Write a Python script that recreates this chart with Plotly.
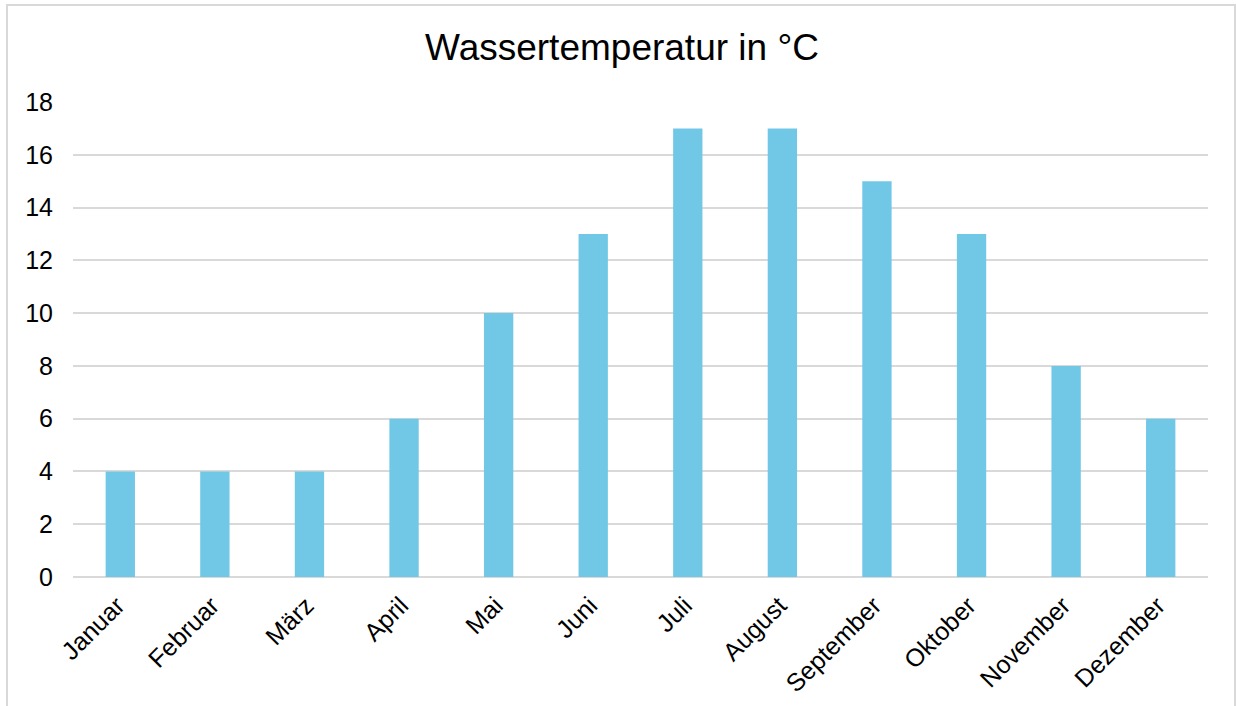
import plotly.graph_objects as go

months = ["Januar", "Februar", "März", "April", "Mai", "Juni", "Juli",
          "August", "September", "Oktober", "November", "Dezember"]
temps = [4, 4, 4, 6, 10, 13, 17, 17, 15, 13, 8, 6]
y_ticks = [0, 2, 4, 6, 8, 10, 12, 14, 16, 18]

W, H = 1236, 706
L, R, T, B = 73, 28, 102, 129
pw, ph = W - L - R, H - T - B

fig = go.Figure(go.Bar(
    x=months, y=temps, width=0.31,
    marker=dict(color="#70C8E6", line=dict(width=0)),
))

def px_x(p):
    return (p - L) / pw

def px_y(p):
    return (H - B - p) / ph

fig.update_layout(
    width=W, height=H,
    margin=dict(l=L, r=R, t=T, b=B, autoexpand=False),
    paper_bgcolor="white", plot_bgcolor="white",
    font=dict(family="Liberation Sans, Arial, sans-serif", color="#000000", size=25),
    title=dict(text="Wassertemperatur in °C", x=622 / W, xref="container", xanchor="center",
               y=1 - 47 / H, yref="container", yanchor="middle",
               font=dict(size=37, color="#000000")),
    showlegend=False,
    xaxis=dict(tickangle=-45, showgrid=False, showline=False, ticks="",
               tickfont=dict(size=25), ticklabelstandoff=8, ticklabelshift=-3),
    yaxis=dict(range=[0, 18], tickvals=y_ticks, showgrid=True, gridcolor="#D9D9D9",
               gridwidth=1.5, zeroline=True, zerolinecolor="#D9D9D9", zerolinewidth=1.5,
               showline=False, ticks="", tickfont=dict(size=25), ticklabelstandoff=19),
    shapes=[dict(type="rect", xref="paper", yref="paper",
                 x0=px_x(7), x1=px_x(1235), y0=px_y(712), y1=px_y(5),
                 line=dict(color="#D9D9D9", width=2), fillcolor="rgba(0,0,0,0)",
                 layer="below")],
)

fig.write_html("out.html", config={"displayModeBar": False},
               post_script="document.body.style.margin='0';document.body.style.overflow='hidden';")
